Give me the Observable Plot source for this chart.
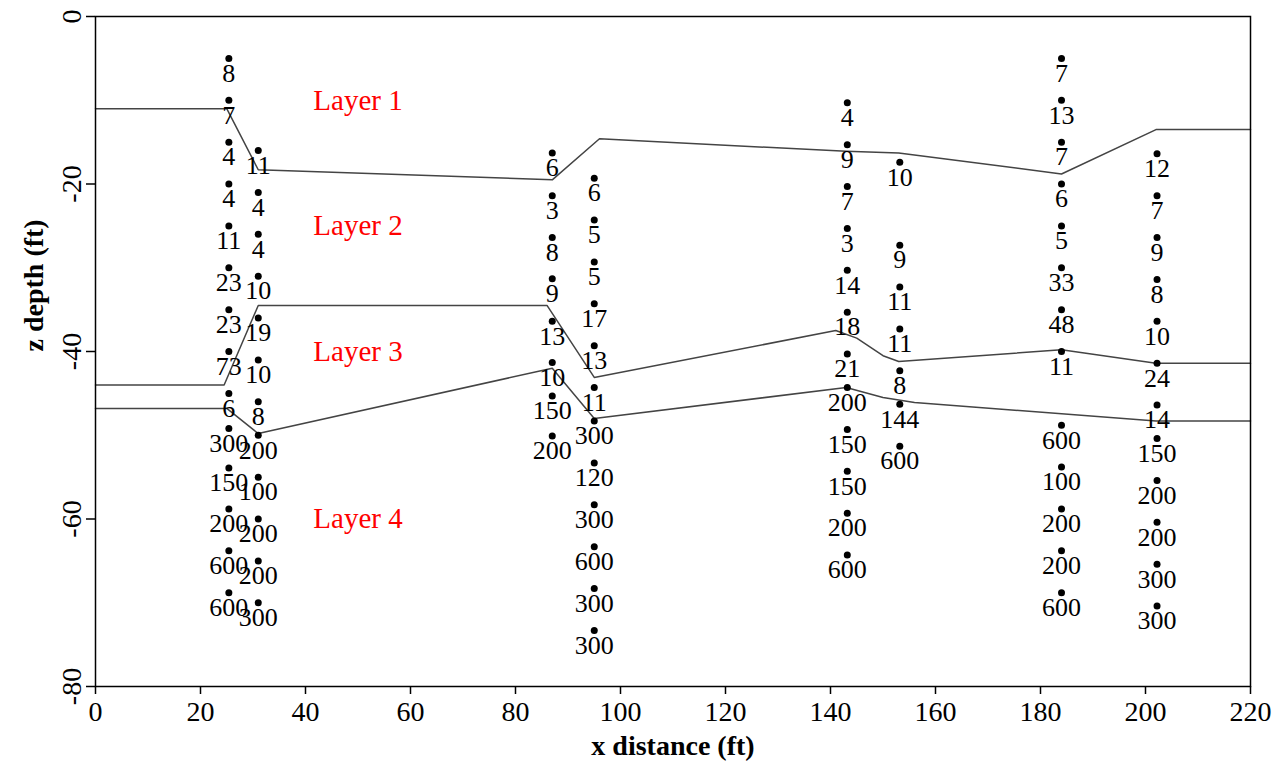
<!DOCTYPE html>
<html><head><meta charset="utf-8">
<script src="https://cdn.jsdelivr.net/npm/d3@7"></script>
<script src="https://cdn.jsdelivr.net/npm/@observablehq/plot@0.6"></script>
<style>body{margin:0;background:#fff} svg{display:block}</style>
</head><body><div id="chart"></div>
<script>
// Axis ticks
const xTicks = [0, 20, 40, 60, 80, 100, 120, 140, 160, 180, 200, 220];
const yTicks = [0, -20, -40, -60, -80];

// Borehole positions (x, ft)
const boreholeX = [25.4, 31, 87, 95, 143.2, 153.2, 184, 202.2];

// Sample depths (z, ft) and blow counts per borehole
const bh1Depth = [-5, -10, -15, -20, -25, -30, -35, -40, -45, -49.2, -53.9, -58.8, -63.8, -68.8];
const bh1N     = [8, 7, 4, 4, 11, 23, 23, 73, 6, 300, 150, 200, 600, 600];
const bh2Depth = [-16, -21, -26, -31, -36, -41, -46, -50, -55, -60, -65, -70];
const bh2N     = [11, 4, 4, 10, 19, 10, 8, 200, 100, 200, 200, 300];
const bh3Depth = [-16.3, -21.4, -26.4, -31.3, -36.4, -41.3, -45.3, -50.1];
const bh3N     = [6, 3, 8, 9, 13, 10, 150, 200];
const bh4Depth = [-19.3, -24.3, -29.3, -34.3, -39.3, -44.3, -48.3, -53.3, -58.3, -63.3, -68.3, -73.3];
const bh4N     = [6, 5, 5, 17, 13, 11, 300, 120, 300, 600, 300, 300];
const bh5Depth = [-10.3, -15.3, -20.3, -25.3, -30.3, -35.3, -40.3, -44.3, -49.3, -54.3, -59.3, -64.3];
const bh5N     = [4, 9, 7, 3, 14, 18, 21, 200, 150, 150, 200, 600];
const bh6Depth = [-17.4, -27.3, -32.3, -37.3, -42.3, -46.3, -51.3];
const bh6N     = [10, 9, 11, 11, 8, 144, 600];
const bh7Depth = [-5, -10, -15, -20, -25, -30, -35, -40, -48.8, -53.8, -58.8, -63.8, -68.8];
const bh7N     = [7, 13, 7, 6, 5, 33, 48, 11, 600, 100, 200, 200, 600];
const bh8Depth = [-16.4, -21.4, -26.4, -31.4, -36.4, -41.4, -46.4, -50.4, -55.4, -60.4, -65.4, -70.4];
const bh8N     = [12, 7, 9, 8, 10, 24, 14, 150, 200, 200, 300, 300];

// Layer boundaries
const line1X = [0, 25, 31, 87, 96, 143, 153, 184, 202, 220];
const line1Z = [-11, -11, -18.3, -19.5, -14.6, -16.1, -16.3, -18.8, -13.5, -13.5];
const line2X = [0, 24.5, 31, 86, 95, 141, 145, 150, 153, 184, 202, 220];
const line2Z = [-44, -44, -34.5, -34.5, -43.1, -37.5, -38.4, -40.5, -41.2, -39.8, -41.4, -41.4];
const line3X = [0, 25, 31, 87, 95, 143, 150, 156, 202, 220];
const line3Z = [-46.8, -46.8, -49.8, -42, -48, -44.3, -45.5, -46.1, -48.3, -48.3];

// Layer labels
const layerNames = ["Layer 1", "Layer 2", "Layer 3", "Layer 4"];
const layerX = [50, 50, 50, 50];
const layerZ = [-10, -25, -40, -60];

const depths = [bh1Depth, bh2Depth, bh3Depth, bh4Depth, bh5Depth, bh6Depth, bh7Depth, bh8Depth];
const counts = [bh1N, bh2N, bh3N, bh4N, bh5N, bh6N, bh7N, bh8N];
const points = depths.flatMap((ds, i) => ds.map((z, j) => ({x: boreholeX[i], z, n: String(counts[i][j])})));
const boundaries = [[line1X, line1Z], [line2X, line2Z], [line3X, line3Z]]
  .flatMap(([xs, zs], k) => xs.map((x, j) => ({line: k, x, z: zs[j]})));
const layers = layerNames.map((name, i) => ({name, x: layerX[i], z: layerZ[i]}));

const serif = "'Liberation Serif', 'Times New Roman', serif";

const plot = Plot.plot({
  width: 1282, height: 771,
  marginLeft: 95, marginRight: 32, marginTop: 16, marginBottom: 85,
  x: {domain: [0, 220]},
  y: {domain: [-80, 0]},
  style: {fontFamily: serif, background: "white", color: "black", overflow: "visible"},
  marks: [
    Plot.line(boundaries, {x: "x", y: "z", z: "line", stroke: "#444", strokeWidth: 1.5}),
    Plot.dot(points, {x: "x", y: "z", r: 3.5, fill: "black"}),
    Plot.text(points, {x: "x", y: "z", text: "n", dy: 15, fontSize: 26, fill: "black"}),
    Plot.text(layers, {x: "x", y: "z", text: "name", fill: "#ff0000", fontSize: 29}),
    Plot.frame({stroke: "black", strokeWidth: 1.5}),
    Plot.axisX({ticks: xTicks, tickSize: 8, tickPadding: 7, fontSize: 28, label: null, tickFormat: d => String(d), strokeWidth: 1.5}),
    Plot.axisY({ticks: yTicks, tickSize: 9, tickPadding: 6, tickRotate: -90, fontSize: 28, label: null, tickFormat: d => String(d), strokeWidth: 1.5}),
    Plot.text(["x distance (ft)"], {frameAnchor: "bottom", dy: 68, fontWeight: "bold", fontSize: 28}),
    Plot.text(["z depth (ft)"], {frameAnchor: "left", dx: -61, rotate: -90, fontWeight: "bold", fontSize: 28})
  ]
});
document.getElementById("chart").appendChild(plot);
</script>
</body></html>
